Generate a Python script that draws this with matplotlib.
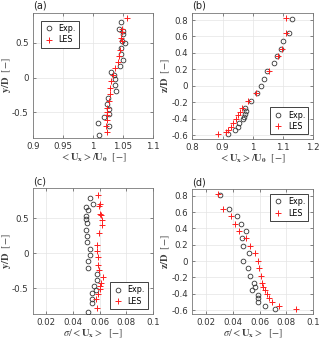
import matplotlib
matplotlib.use("Agg")
import matplotlib.pyplot as plt
import numpy as np

plt.rcParams['axes.unicode_minus'] = False
plt.rcParams['mathtext.fontset'] = 'stix'
plt.rcParams['font.family'] = ['DejaVu Sans']

# ---- panel (a): <Ux>/U0 vs y/D ----
a_exp_x = [1.046, 1.044, 1.050, 1.050, 1.049, 1.053, 1.046, 1.047, 1.050, 1.045, 1.030, 1.035,
           1.037, 1.036, 1.038, 1.025, 1.023, 1.026, 1.026, 1.019, 1.009, 1.026, 1.010]
a_exp_y = [0.79, 0.70, 0.66, 0.62, 0.53, 0.49, 0.43, 0.34, 0.25, 0.17, 0.08, 0.03,
           -0.02, -0.11, -0.20, -0.29, -0.38, -0.45, -0.52, -0.56, -0.65, -0.69, -0.83]
a_les_x = [1.056, 1.049, 1.049, 1.046, 1.048, 1.045, 1.044, 1.041, 1.036, 1.034, 1.030, 1.028,
           1.028, 1.027, 1.024, 1.024, 1.023, 1.023, 1.022, 1.023]
a_les_y = [0.85, 0.69, 0.65, 0.57, 0.52, 0.40, 0.31, 0.22, 0.13, 0.03, -0.05, -0.15,
           -0.24, -0.33, -0.44, -0.50, -0.54, -0.61, -0.69, -0.78]

# ---- panel (b): <Ux>/U0 vs z/D ----
b_exp_x = [1.131, 1.120, 1.101, 1.093, 1.079, 1.069, 1.047, 1.037, 1.027, 1.015, 0.993, 0.974,
           0.977, 0.974, 0.971, 0.969, 0.954, 0.952, 0.940, 0.918]
b_exp_y = [0.817, 0.637, 0.542, 0.453, 0.358, 0.272, 0.179, 0.088, -0.002, -0.091, -0.182, -0.272,
           -0.305, -0.340, -0.375, -0.410, -0.455, -0.500, -0.540, -0.590]
b_les_x = [1.110, 1.110, 1.096, 1.084, 1.054, 1.010, 0.985, 0.963, 0.958, 0.950, 0.943, 0.936,
           0.927, 0.919, 0.910, 0.884]
b_les_y = [0.82, 0.64, 0.45, 0.36, 0.18, -0.09, -0.18, -0.27, -0.32, -0.36, -0.41, -0.45,
           -0.50, -0.54, -0.56, -0.59]

# ---- panel (c): sigma/<Ux> vs y/D ----
c_exp_x = [0.053, 0.0548, 0.0495, 0.051, 0.050, 0.0495, 0.0505, 0.0495, 0.0505, 0.0505, 0.053,
           0.0525, 0.0515, 0.051, 0.058, 0.058, 0.056, 0.057, 0.054, 0.054, 0.054, 0.051]
c_exp_y = [0.80, 0.71, 0.667, 0.614, 0.533, 0.486, 0.43, 0.338, 0.248, 0.162, 0.067,
           -0.024, -0.11, -0.205, -0.30, -0.386, -0.476, -0.528, -0.571, -0.657, -0.714, -0.848]
c_les_x = [0.059, 0.060, 0.0595, 0.060, 0.0608, 0.0618, 0.062, 0.0595, 0.058, 0.0578, 0.0585,
           0.059, 0.0595, 0.0625, 0.061, 0.060, 0.060, 0.059, 0.0575, 0.058]
c_les_y = [0.843, 0.71, 0.68, 0.567, 0.543, 0.48, 0.40, 0.295, 0.12, 0.033, -0.05,
           -0.167, -0.243, -0.338, -0.433, -0.476, -0.514, -0.586, -0.657, -0.786]

# ---- panel (d): sigma/<Ux> vs z/D ----
d_exp_x = [0.0308, 0.037, 0.043, 0.0463, 0.050, 0.047, 0.048, 0.0525, 0.048, 0.0518, 0.053,
           0.056, 0.057, 0.0543, 0.0588, 0.0585, 0.0588, 0.064, 0.0715]
d_exp_y = [0.812, 0.637, 0.547, 0.457, 0.367, 0.278, 0.184, 0.094, 0.004, -0.086, -0.176,
           -0.269, -0.314, -0.355, -0.412, -0.449, -0.494, -0.543, -0.584]
d_les_x = [0.0288, 0.0328, 0.039, 0.0418, 0.0445, 0.0498, 0.0528, 0.0568, 0.0585, 0.0595, 0.061,
           0.062, 0.0628, 0.064, 0.0658, 0.0668, 0.0695, 0.0745, 0.0868]
d_les_y = [0.82, 0.637, 0.547, 0.457, 0.367, 0.278, 0.184, 0.094, 0.004, -0.086, -0.176,
           -0.269, -0.314, -0.355, -0.404, -0.449, -0.494, -0.543, -0.584]

panel_labels = ['(a)', '(b)', '(c)', '(d)']
xlab_u = r'$<\mathbf{U_x}>/\mathbf{U_0}\ \ [-]$'
xlab_s = r'$\sigma/<\mathbf{U_x}>\ \ [-]$'
ylab_y = r'$\mathbf{y/D}\ \ [-]$'
ylab_z = r'$\mathbf{z/D}\ \ [-]$'

fig = plt.figure(figsize=(3.2, 3.42), dpi=100)
positions = [
    [0.103, 0.596, 0.375, 0.367],
    [0.601, 0.593, 0.378, 0.370],
    [0.103, 0.082, 0.375, 0.367],
    [0.601, 0.081, 0.378, 0.366],
]
data = [
    (a_exp_x, a_exp_y, a_les_x, a_les_y),
    (b_exp_x, b_exp_y, b_les_x, b_les_y),
    (c_exp_x, c_exp_y, c_les_x, c_les_y),
    (d_exp_x, d_exp_y, d_les_x, d_les_y),
]
xlims = [(0.9, 1.1), (0.8, 1.2), (0.01, 0.1), (0.01, 0.1)]
ylims = [(-0.87, 0.93), (-0.65, 0.89), (-0.87, 0.93), (-0.65, 0.88)]
xticks = [[0.9, 0.95, 1.0, 1.05, 1.1], [0.8, 0.9, 1.0, 1.1, 1.2],
          [0.02, 0.04, 0.06, 0.08, 0.1], [0.02, 0.04, 0.06, 0.08, 0.1]]
xticklabels = [['0.9', '0.95', '1', '1.05', '1.1'], ['0.8', '0.9', '1', '1.1', '1.2'],
               ['0.02', '0.04', '0.06', '0.08', '0.1'], ['0.02', '0.04', '0.06', '0.08', '0.1']]
yticks = [[-0.5, 0, 0.5], [-0.6, -0.4, -0.2, 0, 0.2, 0.4, 0.6, 0.8],
          [-0.5, 0, 0.5], [-0.6, -0.4, -0.2, 0, 0.2, 0.4, 0.6, 0.8]]
yticklabels = [['-0.5', '0', '0.5'], ['-0.6', '-0.4', '-0.2', '0', '0.2', '0.4', '0.6', '0.8'],
               ['-0.5', '0', '0.5'], ['-0.6', '-0.4', '-0.2', '0', '0.2', '0.4', '0.6', '0.8']]
xlabels = [xlab_u, xlab_u, xlab_s, xlab_s]
ylabels = [ylab_y, ylab_z, ylab_y, ylab_z]
legend_locs = ['upper left', 'lower right', 'lower right', 'upper right']

txtc = '#404040'
for i in range(4):
    ax = fig.add_axes(positions[i])
    ex, ey, lx, ly = data[i]
    ax.plot(ex, ey, linestyle='none', marker='o', markersize=3.4, markerfacecolor='none',
            markeredgecolor='#333333', markeredgewidth=0.6, label='Exp.', zorder=3)
    ax.plot(lx, ly, linestyle='none', marker='+', markersize=4.2, color='#ff2020',
            markeredgewidth=0.7, label='LES', zorder=3)
    ax.set_xlim(*xlims[i])
    ax.set_ylim(*ylims[i])
    ax.set_xticks(xticks[i])
    ax.set_xticklabels(xticklabels[i])
    ax.set_yticks(yticks[i])
    ax.set_yticklabels(yticklabels[i])
    ax.grid(True, color='#e4e4e4', linewidth=0.5)
    ax.set_axisbelow(True)
    ax.tick_params(direction='in', length=2, width=0.5, labelsize=6.2, colors='#555555',
                   labelcolor='#333333', pad=3, top=True, right=True)
    for s in ax.spines.values():
        s.set_color('#777777')
        s.set_linewidth(0.6)
    ax.set_xlabel(xlabels[i], fontsize=7.5, color=txtc)
    ax.set_ylabel(ylabels[i], fontsize=7.5, color=txtc)
    ax.xaxis.set_label_coords(0.5, -0.11)
    ax.yaxis.set_label_coords(-0.165, 0.5)
    ax.text(0.0, 1.015, panel_labels[i], transform=ax.transAxes, fontsize=7,
            ha='left', va='bottom', color='#222222')
    leg = ax.legend(loc=legend_locs[i], fontsize=5.8, frameon=True, fancybox=False,
                    edgecolor='#222222', framealpha=1, handlelength=1.2, handletextpad=0.6,
                    borderpad=0.4, labelspacing=0.3, borderaxespad=1.0 if i == 0 else 0.6)
    leg.get_frame().set_linewidth(0.6)

fig.savefig('out.png', dpi=100)
